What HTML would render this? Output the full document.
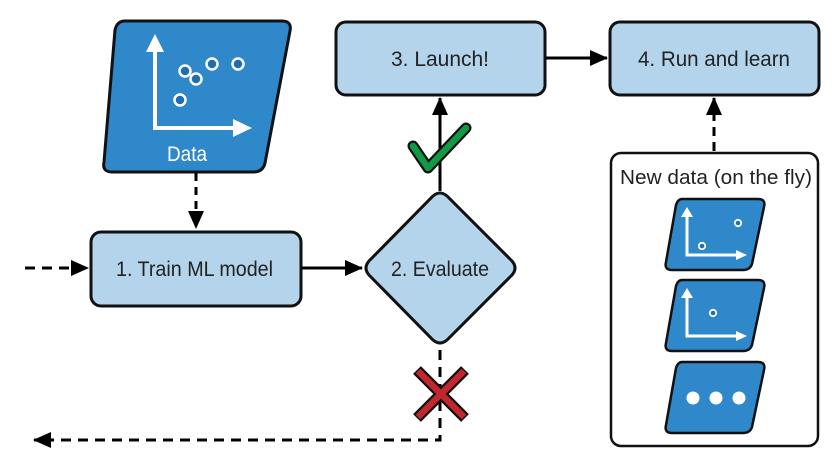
<!DOCTYPE html>
<html><head><meta charset="utf-8"><style>
html,body{margin:0;padding:0;background:#fff;}
svg{display:block;}
text{font-family:"Liberation Sans Narrow","Liberation Sans",sans-serif;fill:#222;}
</style></head><body>
<svg width="835" height="457" viewBox="0 0 835 457" xmlns="http://www.w3.org/2000/svg">
<defs>
<marker id="ab" markerWidth="18" markerHeight="16" refX="17" refY="8" orient="auto" markerUnits="userSpaceOnUse"><path d="M0,0 L18,8 L0,16 z" fill="#000"/></marker>
</defs>

<path d="M125,21 L282,21 Q292,21 290,31 L265,163 Q263,172 253,172 L112,172 Q102,172 104,162 L115,30 Q117,21 125,21 z" fill="#2e88c9" stroke="#111" stroke-width="3"/>
<path d="M155,45 L155,128 L240,128" fill="none" stroke="#fff" stroke-width="4"/>
<path d="M146,52 L155,34 L164,52 z" fill="#fff"/>
<path d="M233,119 L252,128 L233,137 z" fill="#fff"/>
<g fill="#1f6fb0" stroke="#fff" stroke-width="2.5">
<circle cx="185" cy="71" r="5.5"/><circle cx="196" cy="79" r="5.5"/><circle cx="212" cy="64" r="5.5"/><circle cx="238" cy="64" r="5.5"/><circle cx="180" cy="100" r="5.5"/>
</g>
<text x="167" y="161" font-size="21" textLength="40" lengthAdjust="spacingAndGlyphs" style="fill:#fff">Data</text>

<line x1="196" y1="173" x2="196" y2="228" stroke="#000" stroke-width="3" stroke-dasharray="8,6" marker-end="url(#ab)"/>

<rect x="91" y="232" width="210" height="74" rx="10" fill="#b3d4ea" stroke="#111" stroke-width="3"/>
<text x="116" y="276" font-size="21" textLength="157" lengthAdjust="spacingAndGlyphs">1. Train ML model</text>
<line x1="25" y1="268" x2="88" y2="268" stroke="#000" stroke-width="3" stroke-dasharray="10,7" marker-end="url(#ab)"/>
<line x1="302" y1="268" x2="362" y2="268" stroke="#000" stroke-width="3" marker-end="url(#ab)"/>

<path d="M433,196 Q440,190 447,196 L512,261 Q518,268 512,275 L447,340 Q440,346 433,340 L369,275 Q363,268 369,261 z" fill="#b3d4ea" stroke="#111" stroke-width="3"/>
<text x="391" y="276" font-size="21" textLength="98" lengthAdjust="spacingAndGlyphs">2. Evaluate</text>

<line x1="440" y1="191" x2="440" y2="98" stroke="#000" stroke-width="3" marker-end="url(#ab)"/>
<path d="M413,146 L428,168 L466,128" fill="none" stroke="#111" stroke-width="11" stroke-linecap="round" stroke-linejoin="round"/>
<path d="M413,146 L428,168 L466,128" fill="none" stroke="#0f9a46" stroke-width="6.5" stroke-linecap="round" stroke-linejoin="round"/>

<rect x="336" y="22" width="209" height="73" rx="10" fill="#b3d4ea" stroke="#111" stroke-width="3"/>
<text x="391" y="66" font-size="21" textLength="98" lengthAdjust="spacingAndGlyphs">3. Launch!</text>
<rect x="610" y="22" width="209" height="73" rx="10" fill="#b3d4ea" stroke="#111" stroke-width="3"/>
<text x="638" y="66" font-size="21" textLength="152" lengthAdjust="spacingAndGlyphs">4. Run and learn</text>
<line x1="546" y1="58" x2="607" y2="58" stroke="#000" stroke-width="3" marker-end="url(#ab)"/>
<line x1="714" y1="151" x2="714" y2="98" stroke="#000" stroke-width="3" stroke-dasharray="9,6" marker-end="url(#ab)"/>

<path d="M440,350 L440,440 L34,440" fill="none" stroke="#000" stroke-width="3" stroke-dasharray="10,7" marker-end="url(#ab)"/>
<path d="M417,370 L465,418 M465,370 L417,418" stroke="#111" stroke-width="11"/>
<path d="M418,371 L464,417 M464,371 L418,417" stroke="#c4262e" stroke-width="6.5"/>

<rect x="611" y="153" width="207" height="293" rx="10" fill="#fff" stroke="#111" stroke-width="2.5"/>
<text x="620" y="184" font-size="20" textLength="192" lengthAdjust="spacingAndGlyphs">New data (on the fly)</text>

<g stroke="#111" stroke-width="2.5" fill="#2e88c9">
<path d="M682,199 L758,199 Q766,199 764,207 L752,264 Q750,270 743,270 L672,270 Q664,270 666,262 L676,205 Q678,199 682,199 z"/>
<path d="M682,280 L758,280 Q766,280 764,288 L752,345 Q750,351 743,351 L672,351 Q664,351 666,343 L676,286 Q678,280 682,280 z"/>
<path d="M682,362 L758,362 Q766,362 764,370 L752,427 Q750,433 743,433 L672,433 Q664,433 666,425 L676,368 Q678,362 682,362 z"/>
</g>
<g fill="none" stroke="#fff" stroke-width="3">
<path d="M687,211 L687,255 L740,255"/>
<path d="M687,292 L687,336 L740,336"/>
</g>
<g fill="#fff">
<path d="M681,217 L687,207 L693,217 z"/><path d="M736,250 L747,255 L736,260 z"/>
<path d="M681,298 L687,288 L693,298 z"/><path d="M736,331 L747,336 L736,341 z"/>
<circle cx="693" cy="398" r="6.5"/><circle cx="716" cy="398" r="6.5"/><circle cx="739" cy="398" r="6.5"/>
</g>
<g fill="#1f6fb0" stroke="#fff" stroke-width="1.8">
<circle cx="738" cy="223" r="3.2"/><circle cx="702" cy="246" r="3.2"/><circle cx="713" cy="313" r="3.2"/>
</g>
</svg>
</body></html>
